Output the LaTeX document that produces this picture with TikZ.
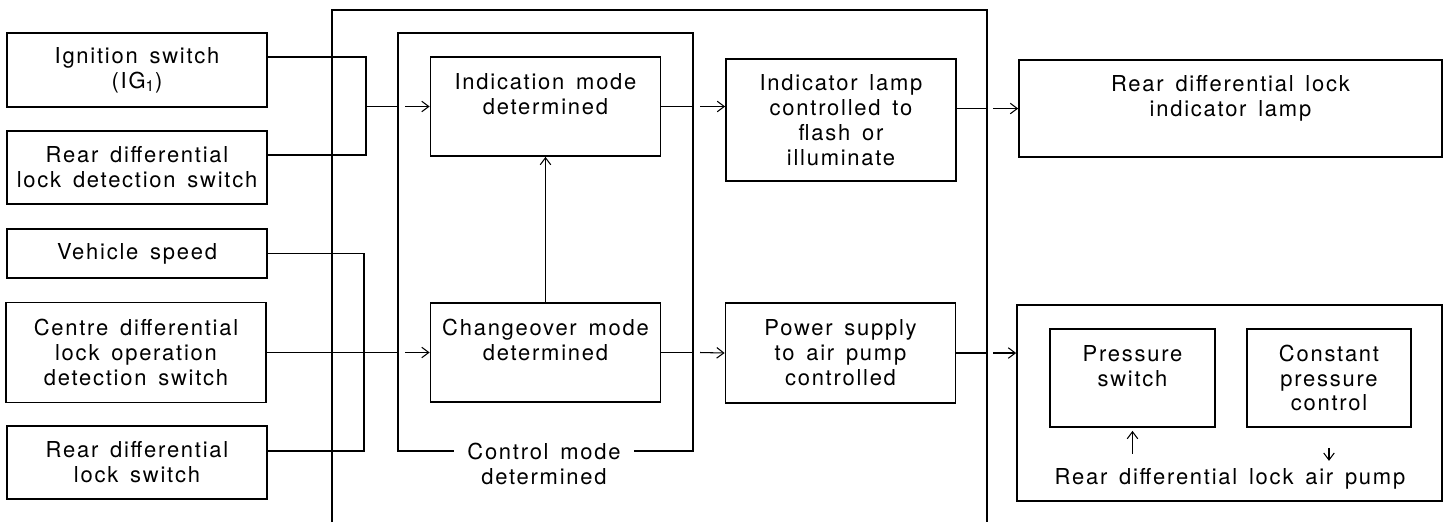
\documentclass[tikz,border=0pt]{standalone}
\usepackage{fontspec}
\setmainfont{TeX Gyre Heros}[LetterSpace=8,WordSpace=1.5]
\usetikzlibrary{calc, arrows.meta}

\begin{document}
\begin{tikzpicture}[x=0.02cm, y=-0.02cm,
    block/.style={draw, line width=1pt, inner sep=0pt, align=center,
      font=\fontsize{12.5}{14.2}\selectfont},
    input/.style={block, minimum width=5.2cm},
    mode/.style={block, minimum width=4.6cm, minimum height=1.98cm},
    frame/.style={line width=1pt},
    wire/.style={line width=0.6pt},
    feed/.style={wire, -{Straight Barb[length=4pt,width=6pt]}},
  ]
  \useasboundingbox (0,0) rectangle (1451,522);
  % inputs
  \node[input, minimum height=1.48cm] (ign) at (137,70) {Ignition switch\\(IG\textsubscript{1})};
  \node[input, minimum height=1.46cm] (det) at (137,167.5) {Rear differential\\lock detection switch};
  \node[input, minimum height=0.98cm] (spd) at (137,253.5) {Vehicle speed};
  \node[input, minimum height=2cm] (ctr) at (136,352.5) {Centre differential\\lock operation\\detection switch};
  \node[input, minimum height=1.46cm] (rsw) at (137,462.5) {Rear differential\\lock switch};

  % computer
  \coordinate (ecuw) at (332,10);
  \coordinate (ecue) at (987,10);
  \draw[frame] (ecuw |- 0,522) -- (ecuw) -- (ecue) -- (ecue |- 0,522);
  \node[block, draw=none, inner xsep=0.26cm, inner ysep=2pt] (cmlbl) at (544,464) {Control mode\\determined};
  \coordinate (cmnw) at (398,33);
  \coordinate (cmse) at (693,451);
  \draw[frame] (cmlbl.west |- cmse) -| (cmnw) -| (cmse) -- (cmlbl.east |- cmse);
  \node[mode] (ind) at (545.5,106.5) {Indication mode\\determined\\\mbox{}};
  \node[mode] (chg) at (545.5,352.5) {Changeover mode\\determined\\\mbox{}};
  \node[mode, minimum height=2.44cm] (lamp) at (841,120) {Indicator lamp\\controlled to\\flash or\\illuminate};
  \node[mode, minimum height=2cm] (pwr) at (840.5,353) {Power supply\\to air pump\\controlled};

  % outputs
  \node[block, minimum width=8.46cm, minimum height=1.94cm] (rlamp) at (1230.5,108.5) {Rear differential lock\\indicator lamp\\\mbox{}};
  \node[block, minimum width=8.5cm, minimum height=3.92cm] (pump) at (1229.5,403) {};
  \node[block, minimum width=3.3cm, minimum height=1.96cm] (psw) at (1132.5,378) {Pressure\\switch\\\mbox{}};
  \node[block, minimum width=3.28cm, minimum height=1.96cm] (cpc) at (1329,378) {Constant\\pressure\\control};
  \node[block, draw=none] (pumplbl) at (1230,479) {Rear differential lock air pump};

  % wiring
  \coordinate (bus1) at (366,106.5);
  \coordinate (bus2) at (364,352.5);
  \draw[wire] ($(ign.east)+(0,-13)$) -| (bus1) |- ($(det.east)+(0,-12.5)$);
  \draw[wire] (bus1) -- (bus1 -| cmnw);
  \draw[feed] ($(bus1 -| cmnw)+(7,0)$) -- (ind.west);
  \draw[wire] (spd.east) -| (bus2) |- ($(rsw.east)+(0,-11.5)$);
  \draw[wire] (ctr.east) -- (ctr.east -| cmnw);
  \draw[feed] ($(ctr.east -| cmnw)+(7,0)$) -- (chg.west);
  \draw[feed] (chg) -- (ind);
  \draw[wire] (ind.east) -- (ind.east -| cmse);
  \draw[feed] ($(ind.east -| cmse)+(7,0)$) -- (lamp.west |- ind.east);
  \draw[wire] (chg.east) -- (chg.east -| cmse);
  \draw[feed] ($(chg.east -| cmse)+(7,0)$) -- (pwr.west);
  \draw[wire] (lamp.east |- rlamp.west) -- (rlamp.west -| ecue);
  \draw[feed] ($(rlamp.west -| ecue)+(6,0)$) -- (rlamp.west);
  \draw[wire] (pwr.east) -- (pwr.east -| ecue);
  \draw[feed] ($(pwr.east -| ecue)+(6,0)$) -- (pump.west |- pwr.east);
  \draw[feed] ($(psw.south)+(0,26)$) -- ($(psw.south)+(0,3)$);
  \draw[feed] ($(cpc.south)+(0,20)$) -- ($(cpc.south)+(0,33)$);
\end{tikzpicture}
\end{document}
